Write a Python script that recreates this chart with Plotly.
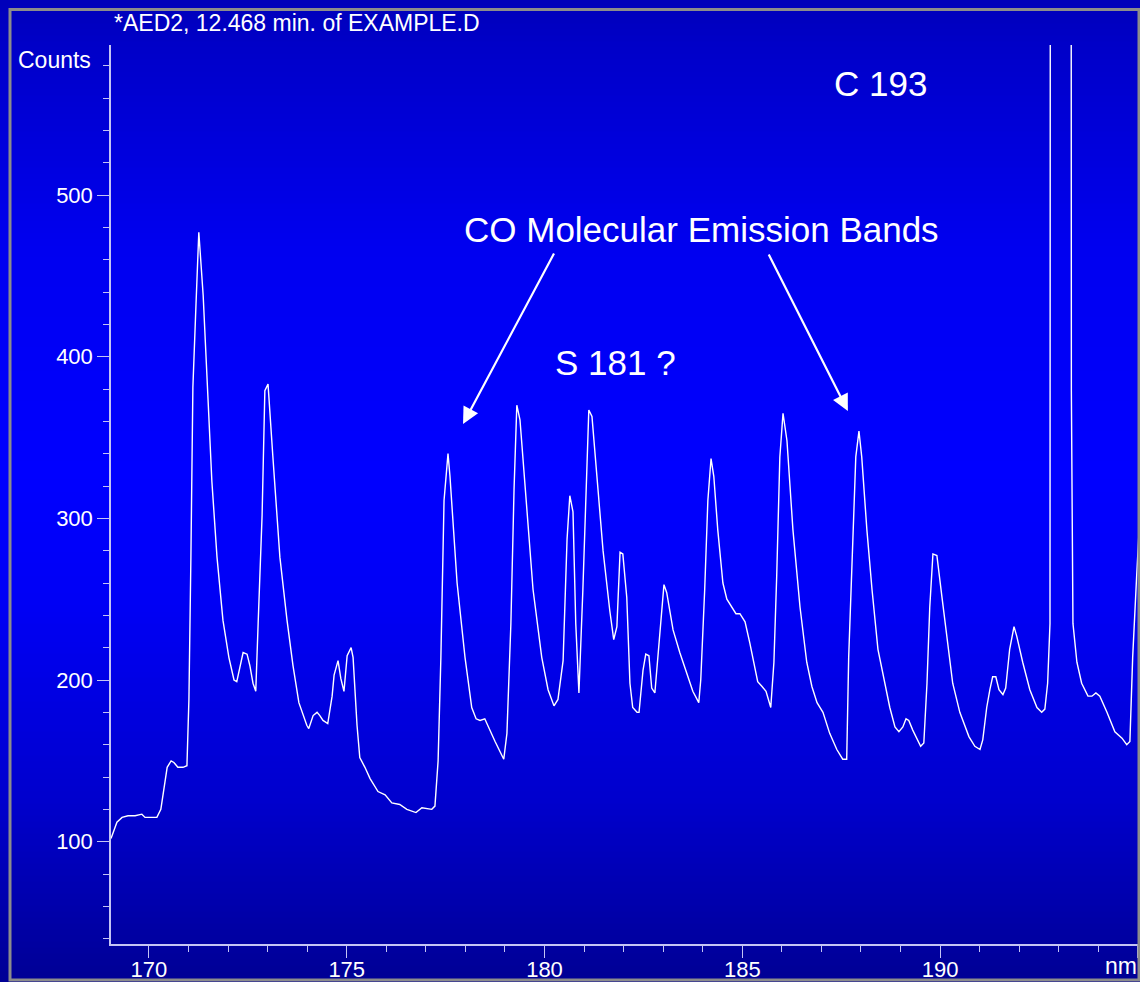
import plotly.graph_objects as go

# ---- data ----
wavelength_nm = [
    169.04, 169.19, 169.32, 169.47, 169.65, 169.82, 169.90, 170.03,
    170.20, 170.30, 170.38, 170.46, 170.56, 170.63, 170.73, 170.86,
    170.96, 171.01, 171.06, 171.11, 171.19, 171.26, 171.37, 171.47,
    171.59, 171.72, 171.87, 172.02, 172.15, 172.22, 172.30, 172.38,
    172.48, 172.55, 172.63, 172.70, 172.76, 172.86, 172.93, 173.01,
    173.13, 173.31, 173.49, 173.64, 173.79, 173.99, 174.04, 174.15,
    174.25, 174.32, 174.40, 174.52, 174.63, 174.68, 174.78, 174.85,
    174.93, 175.01, 175.11, 175.16, 175.26, 175.33, 175.46, 175.59,
    175.79, 175.97, 176.14, 176.34, 176.52, 176.75, 176.90, 177.15,
    177.23, 177.31, 177.38, 177.46, 177.56, 177.61, 177.79, 177.99,
    178.16, 178.27, 178.37, 178.49, 178.75, 178.97, 179.05, 179.15,
    179.23, 179.30, 179.38, 179.56, 179.71, 179.93, 180.09, 180.24,
    180.34, 180.47, 180.57, 180.64, 180.72, 180.79, 180.87, 180.97,
    181.07, 181.12, 181.20, 181.32, 181.48, 181.65, 181.75, 181.83,
    181.91, 181.98, 182.08, 182.16,
    182.23, 182.34, 182.39, 182.49, 182.56, 182.64, 182.71, 182.79,
    182.92, 183.02, 183.09, 183.25, 183.42, 183.60, 183.75, 183.90,
    183.95, 184.05, 184.13, 184.21, 184.28, 184.38, 184.51, 184.61,
    184.74, 184.84, 184.94, 185.07, 185.19, 185.39, 185.50, 185.60,
    185.72, 185.80, 185.87, 185.95, 186.03, 186.13, 186.28, 186.46,
    186.63, 186.76, 186.89, 187.04, 187.21, 187.39, 187.54, 187.64,
    187.69, 187.80, 187.87, 187.95, 188.02, 188.15, 188.28, 188.43,
    188.60, 188.73,
    188.86, 188.96, 189.06, 189.14, 189.21, 189.31, 189.51, 189.59,
    189.67, 189.74, 189.82, 189.92, 190.05, 190.17, 190.32, 190.50,
    190.73, 190.88, 191.01, 191.08, 191.18, 191.26, 191.33, 191.41,
    191.49, 191.59, 191.66, 191.76, 191.87, 191.94, 192.09, 192.27,
    192.45, 192.57, 192.65, 192.72, 192.78, 192.83, 193.05, 193.28,
    193.32, 193.36, 193.46, 193.58, 193.74, 193.84, 193.94, 194.04,
    194.22, 194.42, 194.60, 194.72, 194.80, 194.87, 194.97, 195.05,
]

counts = [
    102, 112, 115, 116, 116, 117, 115, 115,
    115, 120, 133, 146, 150, 149, 146, 146,
    147, 188, 276, 381, 433, 477, 438, 381,
    323, 276, 237, 214, 200, 199, 209, 217,
    216, 209, 198, 193, 235, 302, 379, 383,
    339, 276, 237, 209, 186, 172, 170, 178,
    180, 178, 175, 173, 190, 203, 212, 201,
    193, 215, 220, 214, 172, 152, 146, 139,
    131, 129, 124, 123, 120, 118, 121, 120,
    122, 150, 214, 311, 340, 326, 260, 214,
    183, 176, 175, 176, 162, 151, 167, 235,
    318, 370, 361, 301, 256, 214, 194, 184,
    188, 212, 287, 314, 304, 235, 192, 256,
    332, 367, 363, 328, 280, 243, 225, 233,
    279, 278, 251, 198,
    183, 180, 180, 206, 216, 215, 195, 192,
    231, 259, 254, 231, 217, 204, 193, 186,
    200, 256, 311, 337, 326, 293, 260, 250,
    245, 241, 241, 236, 223, 199, 196, 193,
    183, 211, 264, 338, 365, 348, 293, 245,
    211, 196, 186, 180, 167, 157, 151, 151,
    214, 297, 338, 354, 338, 293, 256, 219,
    198, 183,
    171, 168, 171, 176, 175, 169, 159, 161,
    198, 245, 278, 277, 251, 227, 198, 180,
    165, 159, 157, 163, 183, 194, 202, 202,
    194, 191, 195, 219, 233, 227, 211, 194,
    183, 180, 182, 198, 235, 3000, 3400, 3000,
    379, 235, 211, 198, 190, 190, 192, 190,
    180, 168, 164, 160, 162, 214, 264, 301,
]

x_range = [169.04, 195.03]
y_range = [36.7, 592.8]

title_text = "*AED2, 12.468 min. of EXAMPLE.D"
y_label = "Counts"
x_label = "nm"
labels = [
    {"text": "C 193", "x": 188.50, "y": 568.7},
    {"text": "CO Molecular Emission Bands", "x": 183.98, "y": 478.4},
    {"text": "S 181 ?", "x": 181.80, "y": 396.7},
]
arrows = [
    {"x": 177.94, "y": 358.4, "ax": 180.26, "ay": 464.7},
    {"x": 187.67, "y": 366.4, "ax": 185.65, "ay": 464.1},
]

# ---- layout geometry (pixels) ----
W, H = 1140, 982
ML, MR, MT, MB = 111, 1, 45, 38
PW, PH = W - ML - MR, H - MT - MB


def px_x(p):
    return (p - ML) / PW


def px_y(p):
    return (H - MB - p) / PH


FONT = "Liberation Sans, Arial, Helvetica, sans-serif"
AXIS_COL = "#c4c4f4"

fig = go.Figure()
fig.add_trace(go.Scatter(
    x=wavelength_nm, y=counts, mode="lines",
    line=dict(color="white", width=1.4),
    hoverinfo="skip", showlegend=False,
))

# vertical blue gradient background
stops = [(0, 185), (45, 200), (250, 240), (470, 255), (600, 246),
         (800, 205), (944, 160), (982, 148)]


def blue_at(p):
    for (p0, b0), (p1, b1) in zip(stops[:-1], stops[1:]):
        if p0 <= p <= p1:
            t = (p - p0) / (p1 - p0)
            return b0 + t * (b1 - b0)
    return stops[-1][1]


shapes = []
step = 6
p = 0
while p < H:
    p2 = min(p + step, H)
    b = int(round(blue_at((p + p2) / 2)))
    shapes.append(dict(
        type="rect", xref="paper", yref="paper",
        x0=px_x(-2), x1=px_x(W + 2), y0=px_y(p2 + 0.5), y1=px_y(p - 0.5),
        fillcolor=f"rgb(0,0,{b})", line=dict(width=0), layer="below",
    ))
    p = p2

# gray frame
shapes.append(dict(
    type="rect", xref="paper", yref="paper",
    x0=px_x(10), x1=px_x(1139), y0=px_y(980), y1=px_y(9.5),
    line=dict(color="#8c8c8c", width=3), fillcolor="rgba(0,0,0,0)", layer="above",
))

annotations = [
    dict(text=title_text, xref="paper", yref="paper", x=px_x(112), y=px_y(23),
         xanchor="left", yanchor="middle", showarrow=False,
         font=dict(family=FONT, size=23, color="white")),
    dict(text=y_label, xref="paper", yref="paper", x=px_x(54), y=px_y(60),
         xanchor="center", yanchor="middle", showarrow=False,
         font=dict(family=FONT, size=23, color="white")),
    dict(text=x_label, xref="paper", yref="paper", x=px_x(1138), y=px_y(966),
         xanchor="right", yanchor="middle", showarrow=False, borderpad=0,
         font=dict(family=FONT, size=23, color="white")),
]
for lab in labels:
    annotations.append(dict(
        text=lab["text"], x=lab["x"], y=lab["y"], xref="x", yref="y",
        xanchor="center", yanchor="middle", showarrow=False,
        font=dict(family=FONT, size=35, color="white"),
    ))
for a in arrows:
    annotations.append(dict(
        text="", x=a["x"], y=a["y"], ax=a["ax"], ay=a["ay"],
        xref="x", yref="y", axref="x", ayref="y",
        showarrow=True, arrowhead=2, arrowsize=1.5, arrowwidth=2.2,
        arrowcolor="white", standoff=0, startstandoff=0,
    ))

fig.update_layout(
    width=W, height=H, autosize=False,
    margin=dict(l=ML, r=MR, t=MT, b=MB, pad=0, autoexpand=False),
    paper_bgcolor="#0000c0", plot_bgcolor="rgba(0,0,0,0)",
    shapes=shapes, annotations=annotations, showlegend=False,
    font=dict(family=FONT, color="white", size=23),
)
fig.update_xaxes(
    range=x_range, showgrid=False, zeroline=False,
    showline=True, linecolor=AXIS_COL, linewidth=1.5,
    ticks="outside", ticklen=12, tickwidth=1.3, tickcolor=AXIS_COL,
    tick0=0, dtick=5, ticklabelstandoff=-7,
    minor=dict(ticks="outside", ticklen=6, tickwidth=1.3, tickcolor=AXIS_COL,
               dtick=1, tick0=0, showgrid=False),
    tickfont=dict(family=FONT, size=22, color="white"),
)
fig.update_yaxes(
    range=y_range, showgrid=False, zeroline=False,
    showline=True, linecolor=AXIS_COL, linewidth=1.5,
    ticks="outside", ticklen=12, tickwidth=1.3, tickcolor=AXIS_COL,
    tick0=0, dtick=100,
    minor=dict(ticks="outside", ticklen=6, tickwidth=1.3, tickcolor=AXIS_COL,
               dtick=20, tick0=0, showgrid=False),
    tickfont=dict(family=FONT, size=22, color="white"),
)

fig.write_html("out.html", config={"displayModeBar": False})
